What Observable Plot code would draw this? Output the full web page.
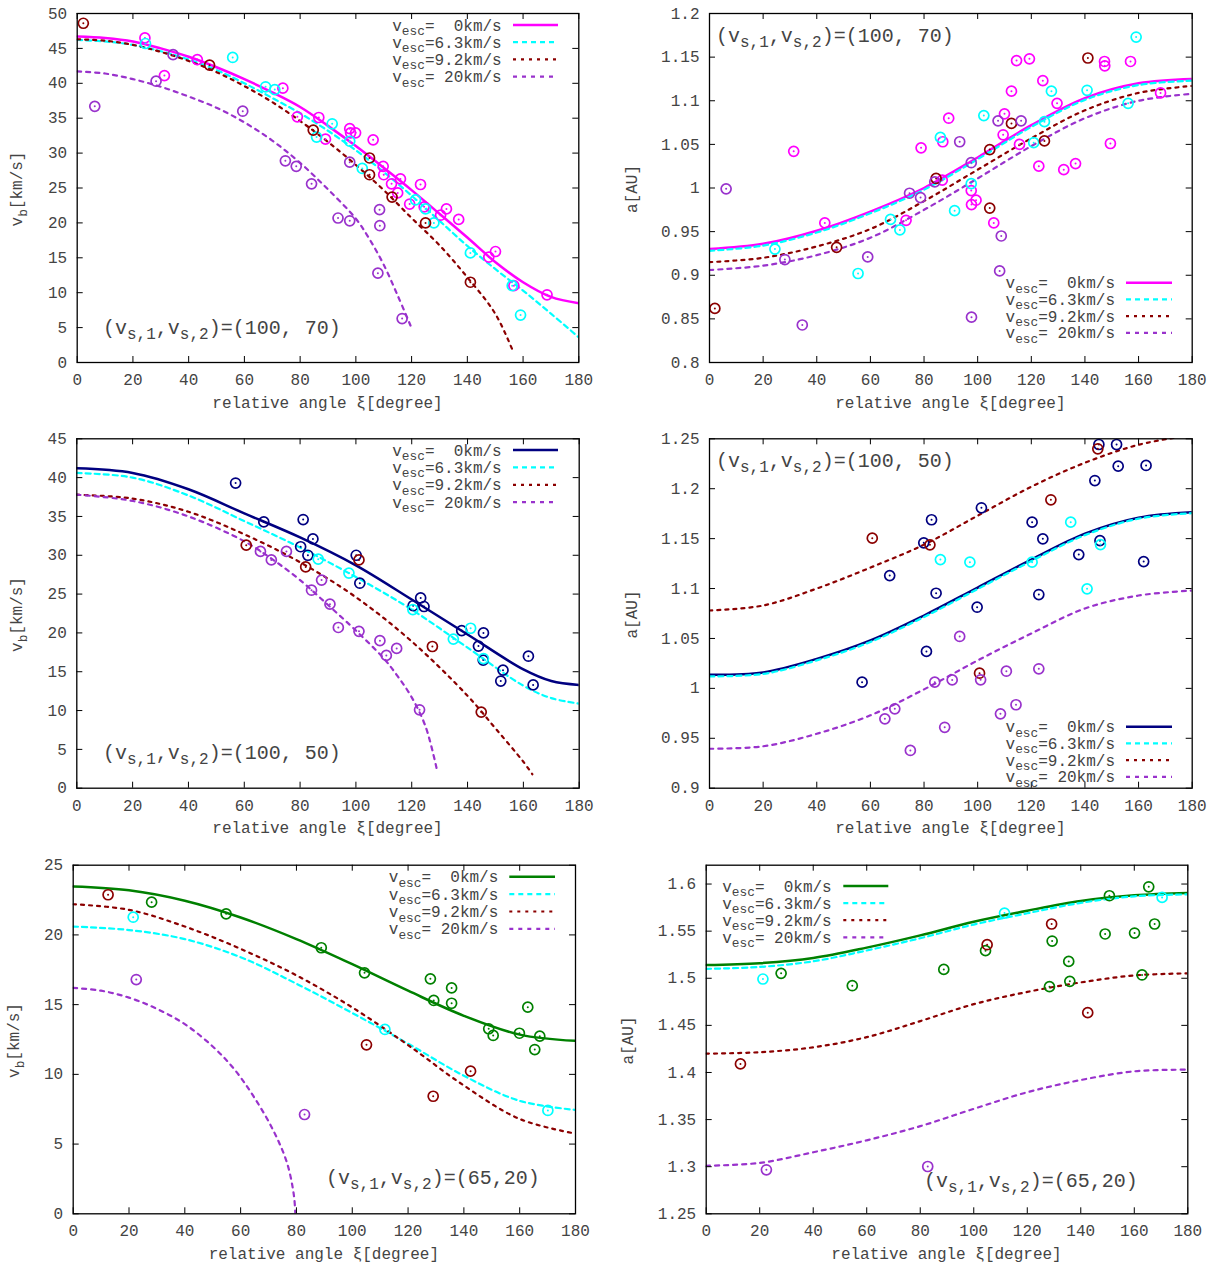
<!DOCTYPE html>
<html><head><meta charset="utf-8">
<script src="https://cdn.jsdelivr.net/npm/d3@7"></script>
<script src="https://cdn.jsdelivr.net/npm/@observablehq/plot@0.6"></script>
<style>
html,body{margin:0;padding:0;background:#fff;}
#page{position:relative;width:1221px;height:1265px;overflow:hidden;background:#fff;}
</style></head><body><div id="page"></div>
<script>
// ---------------- data ----------------
const xTicks = [0,20,40,60,80,100,120,140,160,180];
const A_yTicks = [0,5,10,15,20,25,30,35,40,45,50];
const B_yTicks = [0.8,0.85,0.9,0.95,1,1.05,1.1,1.15,1.2];
const C_yTicks = [0,5,10,15,20,25,30,35,40,45];
const D_yTicks = [0.9,0.95,1,1.05,1.1,1.15,1.2,1.25];
const E_yTicks = [0,5,10,15,20,25];
const F_yTicks = [1.25,1.3,1.35,1.4,1.45,1.5,1.55,1.6];
const legendLabels = ["=  0km/s","=6.3km/s","=9.2km/s","= 20km/s"];
const noteTop = "(100, 70)", noteMid = "(100, 50)", noteBot = "(65,20)";

// Panel A: v_b, (100,70)
const A_c0 = [[0,46.7],[10,46.5],[20,46.0],[30,45.0],[40,43.8],[50,42.3],[60,40.6],[70,38.7],[80,36.6],[90,33.9],[100,31.0],[110,27.9],[120,24.7],[130,21.3],[140,17.9],[150,14.4],[160,11.5],[170,9.4],[180,8.5]];
const A_c1 = [[0,46.2],[10,46.0],[20,45.5],[30,44.6],[40,43.4],[50,41.9],[60,40.0],[70,37.9],[80,35.7],[90,33.2],[100,30.4],[110,27.3],[120,23.9],[130,20.3],[140,16.7],[150,13.4],[160,10.3],[170,7.0],[180,3.6]];
const A_c2 = [[0,46.3],[10,46.1],[20,45.5],[30,44.5],[40,43.2],[50,41.6],[60,39.6],[70,37.3],[80,34.6],[90,31.6],[100,28.3],[110,24.7],[120,20.7],[130,16.8],[140,12.2],[150,7.0],[156.3,1.7]];
const A_c3 = [[0,41.7],[10,41.4],[20,40.6],[30,39.5],[40,38.1],[50,36.5],[60,34.4],[70,31.8],[80,28.6],[90,24.8],[100,20.6],[105,17.6],[110,14.0],[115,9.6],[119.6,5.3]];
const A_p0 = [[24.3,46.5],[31.3,41.1],[43.1,43.4],[73.8,39.3],[79,35.2],[86.7,35.1],[89.1,32.0],[97.8,33.5],[98.1,32.9],[99.9,32.9],[106.2,31.9],[109.8,28.1],[110,26.9],[112.8,25.6],[116,26.3],[115,24.3],[123.2,25.5],[119.3,22.7],[124.5,22.3],[130.4,21.1],[132.5,22.0],[136.9,20.5],[147.7,15.1],[150.1,15.9],[156.7,11.0],[168.6,9.7]];
const A_p1 = [[24.5,45.7],[55.8,43.7],[67.6,39.5],[70.9,39.1],[85.9,32.3],[91.5,34.2],[97.8,31.7],[102.3,27.8],[121.4,23.3],[125,22.0],[128,20.0],[141.1,15.7],[156.1,11.0],[159.1,6.8]];
const A_p2 = [[2.2,48.6],[47.5,42.6],[84.7,33.3],[104.9,29.3],[104.9,26.9],[113,23.7],[125,20.0],[141.1,11.5]];
const A_p3 = [[6.3,36.7],[28.3,40.3],[34.4,44.1],[59.4,36.0],[74.7,28.9],[78.6,28.1],[84.1,25.6],[93.6,20.7],[97.8,20.3],[97.8,28.7],[108.5,21.9],[108.6,19.6],[107.9,12.8],[116.6,6.3]];

// Panel B: a, (100,70)
const B_c0 = [[0,0.930],[20,0.936],[40,0.951],[60,0.973],[80,1.000],[100,1.035],[120,1.072],[140,1.103],[160,1.120],[180,1.125]];
const B_c1 = [[0,0.928],[20,0.934],[40,0.949],[60,0.971],[80,0.998],[100,1.033],[120,1.070],[140,1.101],[160,1.118],[180,1.123]];
const B_c2 = [[0,0.915],[20,0.920],[40,0.933],[60,0.953],[80,0.985],[100,1.021],[120,1.057],[140,1.089],[160,1.109],[180,1.117]];
const B_c3 = [[0,0.906],[20,0.911],[40,0.923],[60,0.943],[80,0.975],[100,1.011],[120,1.048],[140,1.080],[160,1.100],[180,1.108]];
const B_p0 = [[31.4,1.042],[43.0,0.960],[73.3,0.963],[78.9,1.046],[86.8,1.009],[87.0,1.053],[89.2,1.080],[97.6,0.997],[97.7,0.981],[99.4,0.986],[106.0,0.960],[110.0,1.085],[109.5,1.061],[115.6,1.050],[112.6,1.111],[114.5,1.146],[119.3,1.148],[122.8,1.025],[124.3,1.123],[129.6,1.097],[132.1,1.021],[136.5,1.028],[147.3,1.145],[147.4,1.140],[149.5,1.051],[157.0,1.145],[168.2,1.109]];
const B_p1 = [[24.4,0.930],[55.4,0.902],[67.5,0.964],[71.0,0.952],[86.1,1.058],[91.4,0.974],[97.6,1.005],[102.3,1.083],[120.9,1.052],[124.9,1.076],[127.5,1.111],[140.8,1.112],[156.1,1.097],[159.1,1.173]];
const B_p2 = [[2.0,0.862],[47.4,0.932],[84.5,1.011],[104.5,1.044],[104.5,0.977],[112.6,1.074],[124.9,1.054],[141.1,1.149]];
const B_p3 = [[6.2,0.999],[28.1,0.918],[34.6,0.843],[59.0,0.921],[74.6,0.994],[78.7,0.989],[84.0,1.007],[93.3,1.053],[97.6,1.029],[97.7,0.852],[108.8,0.945],[108.2,0.905],[107.6,1.077],[116.2,1.077]];

// Panel C: v_b, (100,50)
const C_c0 = [[0,41.2],[20,40.6],[40,38.5],[60,35.4],[80,32.3],[100,28.7],[120,24.3],[140,19.8],[160,15.3],[170,13.8],[180,13.3]];
const C_c1 = [[0,40.6],[20,40.0],[40,37.7],[60,34.4],[80,31.0],[100,27.2],[120,23.0],[140,18.1],[160,13.2],[170,11.6],[180,10.9]];
const C_c2 = [[0,37.8],[20,37.3],[40,35.6],[60,32.7],[80,29.1],[100,24.6],[120,18.9],[140,11.9],[150,7.7],[160,3.4],[163.2,1.8]];
const C_c3 = [[0,37.8],[20,37.0],[40,35.0],[60,31.8],[70,29.5],[80,26.8],[90,23.6],[100,20.3],[110,16.7],[115,14.4],[120,11.7],[125,7.9],[129.2,2.1]];
const C_p0 = [[56.9,39.3],[67.0,34.3],[81.1,34.6],[80.2,31.1],[84.6,32.1],[82.8,30.0],[100.1,30.0],[101.4,26.4],[120.5,23.5],[123.2,24.5],[124.4,23.4],[137.9,20.3],[143.9,18.3],[145.7,20.0],[145.6,16.5],[152.7,15.2],[151.9,13.8],[161.8,17.0],[163.5,13.3]];
const C_p1 = [[86.5,29.5],[97.5,27.7],[120.4,23.0],[134.9,19.2],[141.1,20.6],[145.7,16.7]];
const C_p2 = [[60.7,31.3],[82.0,28.5],[101.1,29.4],[127.4,18.25],[144.9,9.8]];
const C_p3 = [[65.8,30.5],[69.7,29.4],[75.1,30.5],[87.7,26.8],[84.1,25.5],[90.7,23.7],[93.7,20.7],[101.1,20.2],[108.6,19.0],[110.9,17.1],[114.6,18.0],[122.8,10.1]];

// Panel D: a, (100,50)
const D_c0 = [[0,1.0136],[20,1.016],[40,1.0295],[60,1.048],[80,1.073],[100,1.101],[120,1.129],[140,1.155],[160,1.171],[180,1.1765]];
const D_c1 = [[0,1.012],[20,1.0145],[40,1.028],[60,1.0465],[80,1.0715],[100,1.0995],[120,1.1275],[140,1.1535],[160,1.170],[180,1.1755]];
const D_c2 = [[0,1.078],[20,1.083],[40,1.100],[60,1.121],[80,1.144],[100,1.173],[120,1.202],[140,1.226],[160,1.244],[180,1.254]];
const D_c3 = [[0,0.9395],[20,0.942],[40,0.9545],[60,0.973],[80,0.999],[100,1.028],[120,1.055],[140,1.080],[160,1.093],[180,1.098]];
const D_p0 = [[56.9,1.0062],[67.2,1.113],[80.9,1.037],[79.9,1.1458],[82.8,1.1689],[84.5,1.0953],[99.8,1.0813],[101.4,1.1809],[120.3,1.1665],[124.3,1.1498],[122.8,1.094],[137.7,1.134],[143.7,1.2082],[145.2,1.2443],[145.6,1.148],[151.8,1.2443],[152.4,1.2226],[162.8,1.2233],[161.9,1.127]];
const D_p1 = [[86.1,1.129],[97.1,1.1264],[120.3,1.1264],[134.7,1.1665],[140.8,1.0997],[145.8,1.144]];
const D_p2 = [[60.7,1.1505],[82.2,1.1438],[100.7,1.0152],[127.3,1.1889],[144.8,1.24]];
const D_p3 = [[65.4,0.9695],[69.1,0.9795],[74.9,0.9378],[84.0,1.0062],[87.7,0.961],[90.5,1.0085],[93.3,1.052],[101.1,1.0086],[108.5,0.9745],[110.7,1.0172],[114.3,0.9836],[122.8,1.0196]];

// Panel E: v_b, (65,20)
const E_c0 = [[0,23.47],[20,23.2],[40,22.45],[60,21.25],[80,19.7],[100,17.9],[120,16.0],[140,14.2],[160,12.85],[180,12.4]];
const E_c1 = [[0,20.6],[20,20.35],[40,19.7],[60,18.4],[80,16.5],[100,14.4],[120,12.2],[140,9.9],[160,8.1],[180,7.45]];
const E_c2 = [[0,22.2],[20,21.8],[40,20.6],[60,19.0],[80,17.1],[100,14.8],[120,12.1],[140,9.2],[160,6.8],[180,5.75]];
const E_c3 = [[0,16.2],[10,16.0],[20,15.5],[30,14.7],[40,13.6],[50,12.0],[57.6,10.4],[64.7,8.4],[71.9,5.9],[76.7,3.6],[79.1,1.3],[79.6,0]];
const E_p0 = [[28.1,22.35],[54.8,21.51],[88.9,19.08],[104.4,17.28],[128.0,16.85],[129.2,15.3],[135.6,16.2],[135.6,15.1],[148.9,13.27],[150.5,12.79],[159.9,12.95],[162.9,14.82],[167.2,12.74],[165.4,11.78]];
const E_p1 = [[21.5,21.27],[111.7,13.22],[170.1,7.41]];
const E_p2 = [[12.5,22.88],[105.1,12.12],[129.0,8.43],[142.4,10.23]];
const E_p3 = [[22.6,16.8],[82.9,7.12]];

// Panel F: a, (65,20)
const F_c0 = [[0,1.514],[20,1.516],[40,1.5215],[60,1.5325],[80,1.5455],[100,1.560],[120,1.5717],[140,1.582],[160,1.588],[180,1.5905]];
const F_c1 = [[0,1.510],[20,1.512],[40,1.518],[60,1.5295],[80,1.5425],[100,1.557],[120,1.569],[140,1.580],[160,1.587],[180,1.589]];
const F_c2 = [[0,1.420],[20,1.4215],[40,1.4267],[60,1.4375],[80,1.4545],[100,1.4725],[120,1.4855],[140,1.4956],[160,1.503],[180,1.5052]];
const F_c3 = [[0,1.301],[20,1.304],[40,1.3153],[60,1.328],[80,1.343],[100,1.3614],[120,1.379],[140,1.392],[160,1.4012],[180,1.403]];
const F_p0 = [[28.0,1.5052],[54.6,1.4921],[88.8,1.5094],[104.4,1.5293],[129.3,1.5395],[128.3,1.4911],[135.5,1.5179],[135.9,1.4967],[149.1,1.547],[150.7,1.5876],[160.1,1.548],[162.9,1.5035],[165.4,1.5971],[167.6,1.5576]];
const F_p1 = [[21.2,1.4992],[111.5,1.5692],[170.4,1.5858]];
const F_p2 = [[12.8,1.4091],[105.0,1.5356],[129.1,1.5576],[142.6,1.4635]];
const F_p3 = [[22.5,1.2967],[82.8,1.3002]];

// ---------------- styling & layout ----------------
const FONT = "'Liberation Mono','DejaVu Sans Mono',monospace";
const TXT = "#444";
const CYAN = "#00ffff", DARKRED = "#8b0000", PURPLE = "#9932cc";
const DASH = [null, "5,4", "3,5", "4,5"];
const WIDTH = [2.5, 2.2, 2.2, 2.2];

const panels = [
  {left:0, top:0, width:610, height:425, frame:[76.7,13,578.3,362], yDomain:[0,50], yTicks:A_yTicks,
   curves:[A_c0,A_c1,A_c2,A_c3], points:[A_p0,A_p1,A_p2,A_p3], main:"#ff00ff", vb:true, ytx:22,
   legend:{end:501.7, s1:513, s2:558, y0:25, dy:17.2}, note:{x:103, y:333.5, val:noteTop}},
  {left:610, top:0, width:611, height:425, frame:[709,13,1191.7,362], yDomain:[0.8,1.2], yTicks:B_yTicks,
   curves:[B_c0,B_c1,B_c2,B_c3], points:[B_p0,B_p1,B_p2,B_p3], main:"#ff00ff", vb:false, ytx:636.5,
   legend:{end:1115, s1:1126, s2:1172, y0:282.7, dy:16.7}, note:{x:716, y:41.5, val:noteTop}},
  {left:0, top:425, width:610, height:425, frame:[76.3,438.3,578.7,787.7], yDomain:[0,45], yTicks:C_yTicks,
   curves:[C_c0,C_c1,C_c2,C_c3], points:[C_p0,C_p1,C_p2,C_p3], main:"#000080", vb:true, ytx:22,
   legend:{end:501.7, s1:513, s2:558, y0:450, dy:17.4}, note:{x:103, y:758.5, val:noteMid}},
  {left:610, top:425, width:611, height:425, frame:[709,438.3,1191.7,787.7], yDomain:[0.9,1.25], yTicks:D_yTicks,
   curves:[D_c0,D_c1,D_c2,D_c3], points:[D_p0,D_p1,D_p2,D_p3], main:"#000080", vb:false, ytx:636.5,
   legend:{end:1115, s1:1126, s2:1172, y0:726.7, dy:16.7}, note:{x:716, y:467, val:noteMid}},
  {left:0, top:850, width:610, height:415, frame:[72.7,864.7,575,1213.3], yDomain:[0,25], yTicks:E_yTicks,
   curves:[E_c0,E_c1,E_c2,E_c3], points:[E_p0,E_p1,E_p2,E_p3], main:"#008000", vb:true, ytx:19,
   legend:{end:498.3, s1:509.3, s2:555, y0:876.7, dy:17.4}, note:{x:326, y:1183.5, val:noteBot}},
  {left:610, top:850, width:611, height:415, frame:[705.7,864.7,1187.3,1213.3], yDomain:[1.25,1.62], yTicks:F_yTicks,
   curves:[F_c0,F_c1,F_c2,F_c3], points:[F_p0,F_p1,F_p2,F_p3], main:"#008000", vb:false, ytx:633,
   legend:{end:831.7, s1:843.3, s2:888.3, y0:886, dy:17.1}, note:{x:924, y:1187, val:noteBot}}
];

const page = document.getElementById("page");

function seriesColor(cfg, i) { return [cfg.main, CYAN, DARKRED, PURPLE][i]; }

for (const cfg of panels) {
  const [fx0, fy0, fx1, fy1] = cfg.frame;
  const mL = fx0 - cfg.left, mT = fy0 - cfg.top;
  const mR = cfg.left + cfg.width - fx1, mB = cfg.top + cfg.height - fy1;
  const pw = fx1 - fx0, ph = fy1 - fy0, T = 6;
  const marks = [];
  cfg.curves.forEach((c, i) => {
    const o = {x: d => d[0], y: d => d[1], stroke: seriesColor(cfg, i), strokeWidth: WIDTH[i], curve: "catmull-rom", clip: true};
    if (DASH[i]) o.strokeDasharray = DASH[i];
    marks.push(Plot.line(c, o));
  });
  cfg.points.forEach((p, i) => {
    marks.push(Plot.dot(p, {x: d => d[0], y: d => d[1], r: 5, stroke: seriesColor(cfg, i), strokeWidth: 1.7, fill: "none"}));
    marks.push(Plot.dot(p, {x: d => d[0], y: d => d[1], r: 1, fill: seriesColor(cfg, i), stroke: null}));
  });
  marks.push(Plot.tickX(xTicks, {x: d => d, insetTop: ph - T, stroke: "#000", strokeWidth: 1}));
  marks.push(Plot.tickX(xTicks, {x: d => d, insetBottom: ph - T, stroke: "#000", strokeWidth: 1}));
  marks.push(Plot.tickY(cfg.yTicks, {y: d => d, insetRight: pw - T, stroke: "#000", strokeWidth: 1}));
  marks.push(Plot.tickY(cfg.yTicks, {y: d => d, insetLeft: pw - T, stroke: "#000", strokeWidth: 1}));
  marks.push(Plot.frame({stroke: "#000", strokeWidth: 1.3}));
  marks.push(Plot.axisX({ticks: xTicks, tickSize: 0, tickPadding: 11, tickFormat: d => String(d), label: null, fill: TXT}));
  marks.push(Plot.axisY({ticks: cfg.yTicks, tickSize: 0, tickPadding: 10, tickFormat: d => String(d), label: null, fill: TXT}));
  const svg = Plot.plot({
    width: cfg.width, height: cfg.height,
    marginLeft: mL, marginRight: mR, marginTop: mT, marginBottom: mB,
    x: {domain: [0, 180]}, y: {domain: cfg.yDomain},
    style: {fontFamily: FONT, fontSize: "16px", color: TXT, background: "transparent", overflow: "visible"},
    marks
  });
  svg.style.position = "absolute";
  svg.style.left = cfg.left + "px";
  svg.style.top = cfg.top + "px";
  page.appendChild(svg);
}

// ---------------- overlay: titles, legends, notes ----------------
const ov = d3.create("svg").attr("width", 1221).attr("height", 1265)
  .style("position", "absolute").style("left", "0px").style("top", "0px")
  .style("pointer-events", "none").style("font-family", FONT).style("white-space", "pre");

function rich(x, y, parts, size, subSize, shift, anchor, transform) {
  const t = ov.append("text").attr("x", x).attr("y", y).attr("fill", TXT)
    .attr("font-size", size).attr("text-anchor", anchor || "start").attr("xml:space", "preserve");
  if (transform) t.attr("transform", transform);
  let down = false;
  for (const [s, sub] of parts) {
    const ts = t.append("tspan").text(s);
    if (sub && !down) { ts.attr("dy", shift).attr("font-size", subSize); down = true; }
    else if (sub) { ts.attr("font-size", subSize); }
    else if (down) { ts.attr("dy", -shift).attr("font-size", size); down = false; }
    else ts.attr("font-size", size);
  }
  return t;
}

for (const cfg of panels) {
  const [fx0, fy0, fx1, fy1] = cfg.frame;
  rich((fx0 + fx1) / 2, fy1 + 45.5, [["relative angle ξ[degree]", 0]], 16, 12.8, 4.5, "middle");
  const cy = (fy0 + fy1) / 2 + 1.5;
  const yparts = cfg.vb ? [["v", 0], ["b", 1], ["[km/s]", 0]] : [["a[AU]", 0]];
  rich(0, 0, yparts, 16, 12.8, 4.5, "middle", `translate(${cfg.ytx},${cy}) rotate(-90)`);
  const L = cfg.legend;
  legendLabels.forEach((lab, i) => {
    const y = L.y0 + i * L.dy;
    rich(L.end, y + 5.5, [["v", 0], ["esc", 1], [lab, 0]], 16, 12.8, 4.5, "end");
    const ln = ov.append("line").attr("x1", L.s1).attr("x2", L.s2).attr("y1", y).attr("y2", y)
      .attr("stroke", seriesColor(cfg, i)).attr("stroke-width", WIDTH[i]);
    if (DASH[i]) ln.attr("stroke-dasharray", DASH[i]);
  });
  const N = cfg.note;
  rich(N.x, N.y, [["(v", 0], ["s,1", 1], [",v", 0], ["s,2", 1], [")=" + N.val, 0]], 20, 16, 5, "start");
}
page.appendChild(ov.node());
</script></body></html>
